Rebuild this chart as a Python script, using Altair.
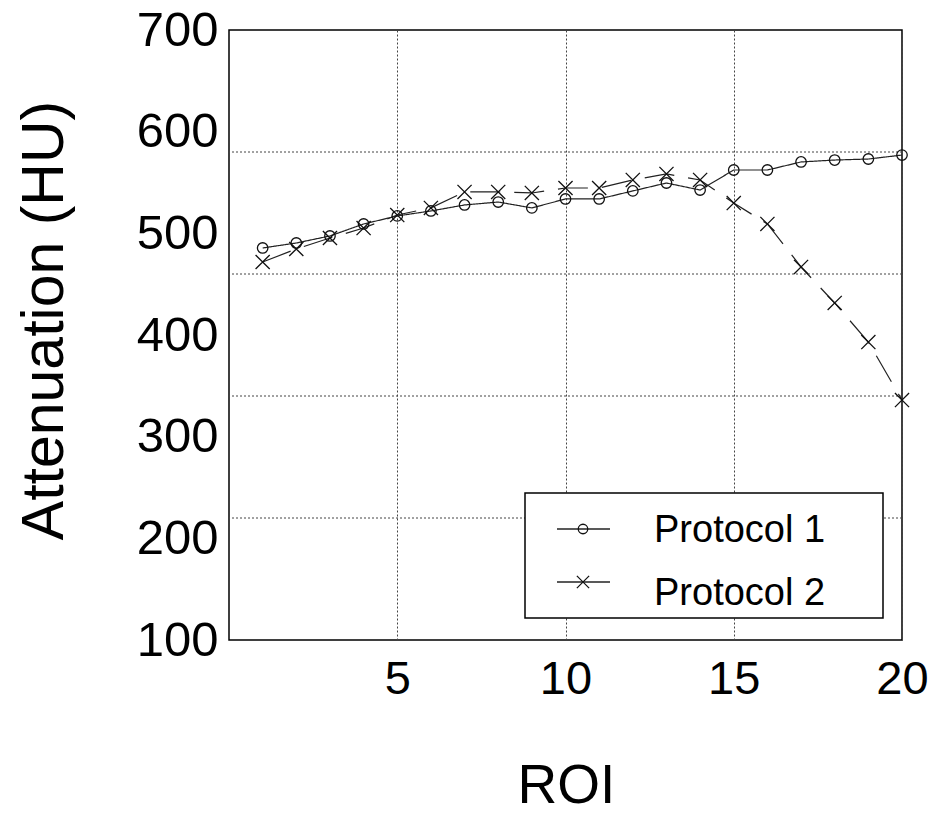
import altair as alt
import pandas as pd

# ---- data ----
roi = list(range(1, 21))
protocol1 = [485.6, 490.5, 497.4, 509.2, 517.1, 522.0, 527.9, 530.8, 525.0, 533.8,
             533.8, 541.7, 549.5, 542.6, 562.3, 562.3, 570.2, 572.1, 573.1, 577.0]
protocol2 = [471.8, 484.6, 495.4, 505.2, 518.0, 525.0, 540.7, 540.7, 539.7, 544.6,
             544.6, 552.5, 558.4, 552.5, 529.8, 509.2, 466.9, 431.5, 393.1, 336.0]
series_names = ["Protocol 1", "Protocol 2"]
x_ticks = [5, 10, 15, 20]
y_ticks = [100, 200, 300, 400, 500, 600, 700]
hgrid = [220, 340, 460, 580]   # horizontal grid lines (5 equal divisions of the box)

FONT = "Liberation Sans"
W, H = 673, 610
CROSS = "M-1,-1L1,1M-1,1L1,-1"

df = pd.DataFrame({
    "ROI": roi * 2,
    "value": protocol1 + protocol2,
    "Series": [series_names[0]] * len(roi) + [series_names[1]] * len(roi),
})

x_enc = alt.X(
    "ROI:Q",
    scale=alt.Scale(domain=[0, 20], nice=False, zero=False),
    axis=alt.Axis(
        values=x_ticks, grid=True, gridDash=[2, 2], gridColor="#444", gridWidth=1,
        ticks=False, tickSize=0, domain=False, labelFlush=False, labelOverlap=False,
        labelFont=FONT, labelFontSize=47, labelColor="black", labelPadding=16,
        title="ROI", titleFont=FONT, titleFontSize=55, titleFontWeight="normal",
        titleColor="black", titleX=337, titleY=162, titleBaseline="alphabetic",
        titleAlign="center",
    ),
)
y_enc = alt.Y(
    "value:Q",
    scale=alt.Scale(domain=[100, 700], nice=False, zero=False),
    axis=alt.Axis(
        values=y_ticks, grid=False, ticks=False, tickSize=0, domain=False,
        labelFlush=False, labelOverlap=False,
        labelFont=FONT, labelFontSize=49, labelColor="black", labelPadding=11,
        title="Attenuation (HU)", titleFont=FONT, titleFontSize=59,
        titleFontWeight="normal", titleColor="black", titleX=-167, titleY=290,
        titleAngle=270, titleBaseline="alphabetic", titleAlign="center",
    ),
)

grid = alt.Chart(pd.DataFrame({"value": hgrid})).mark_rule(
    color="#444", strokeDash=[2, 2], strokeWidth=1
).encode(y=y_enc)

lines = alt.Chart(df).mark_line(color="#222", strokeWidth=1.2).encode(
    x=x_enc, y=y_enc,
    strokeDash=alt.StrokeDash("Series:N", scale=alt.Scale(domain=series_names, range=[[1, 0], [30, 14]]), legend=None),
    detail="Series:N",
)

points = alt.Chart(df).mark_point(filled=False, color="#111", strokeWidth=1.3, opacity=1).encode(
    x=x_enc, y=y_enc,
    shape=alt.Shape("Series:N", scale=alt.Scale(domain=series_names, range=["circle", CROSS]), legend=None),
    size=alt.Size("Series:N", scale=alt.Scale(domain=series_names, range=[110, 200]), legend=None),
)

one = pd.DataFrame({"a": [0]})
legend_box = alt.Chart(one).mark_rect(fill="white", stroke="black", strokeWidth=1.5).encode(
    x=alt.value(296), x2=alt.value(654), y=alt.value(463), y2=alt.value(588)
)

legend_layers = [legend_box]
sym_y = [499, 552]
txt_y = [512, 575]
shapes = ["circle", CROSS]
sizes = [90, 150]
for i, name in enumerate(series_names):
    legend_layers.append(
        alt.Chart(one).mark_rule(color="#222", strokeWidth=1.3).encode(
            x=alt.value(328), x2=alt.value(381), y=alt.value(sym_y[i])
        )
    )
    legend_layers.append(
        alt.Chart(one).mark_point(shape=shapes[i], size=sizes[i], filled=False, color="#111",
                                  strokeWidth=1.3, opacity=1).encode(
            x=alt.value(354), y=alt.value(sym_y[i])
        )
    )
    legend_layers.append(
        alt.Chart(one).mark_text(align="left", baseline="alphabetic", font=FONT, fontSize=38,
                                 color="black").encode(
            x=alt.value(425), y=alt.value(txt_y[i]), text=alt.value(name)
        )
    )

chart = alt.layer(grid, lines, points, *legend_layers).properties(
    width=W, height=H,
    autosize=alt.AutoSizeParams(type="none"),
    padding={"left": 221, "top": 22, "right": 27, "bottom": 174},
    background="white",
).configure_view(stroke="black", strokeWidth=1.5)

chart.save("out.html", embed_options={"renderer": "svg", "actions": False})
